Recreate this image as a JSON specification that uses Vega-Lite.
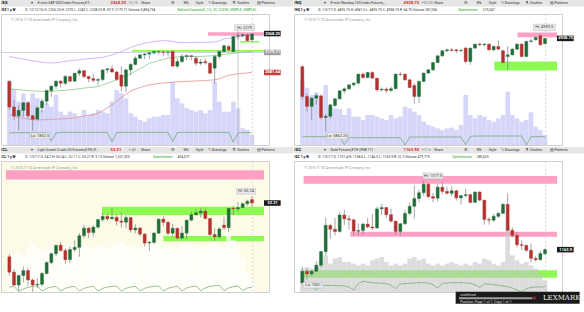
{
"$schema": "https://vega.github.io/schema/vega-lite/v6.json",
"padding": 0,
"background": "#ffffff",
"spacing": 0,
"config": {"view": {"stroke": null}, "font": "Roboto", "concat": {"spacing": 0}},
"datasets": {
"es": [
{"d":"2016-01-04","o":2038,"h":2046,"l":1900,"c":1916,"v":9650,"oi":2992,"ku":2158,"km":2003,"kl":1880},
{"d":"2016-01-11","o":1916,"h":1950,"l":1854,"c":1873,"v":8400,"oi":3014,"ku":2154,"km":2001,"kl":1872},
{"d":"2016-01-18","o":1873,"h":1925,"l":1804,"c":1900,"v":6500,"oi":3014,"ku":2150,"km":1999,"kl":1866},
{"d":"2016-01-25","o":1900,"h":1940,"l":1868,"c":1936,"v":7750,"oi":3014,"ku":2146,"km":1997,"kl":1862},
{"d":"2016-02-01","o":1936,"h":1945,"l":1862,"c":1874,"v":6500,"oi":3014,"ku":2142,"km":1995,"kl":1858},
{"d":"2016-02-08","o":1874,"h":1880,"l":1802.5,"c":1858,"v":7750,"oi":3014,"ku":2138,"km":1993,"kl":1856},
{"d":"2016-02-15","o":1858,"h":1920,"l":1852,"c":1912,"v":7000,"oi":3014,"ku":2134,"km":1992,"kl":1854},
{"d":"2016-02-22","o":1912,"h":1955,"l":1890,"c":1944,"v":5250,"oi":3014,"ku":2131,"km":1991,"kl":1855},
{"d":"2016-02-29","o":1944,"h":2000,"l":1925,"c":1995,"v":6250,"oi":3014,"ku":2128,"km":1990,"kl":1856},
{"d":"2016-03-07","o":1995,"h":2020,"l":1965,"c":2016,"v":5750,"oi":2464,"ku":2127,"km":1991,"kl":1857},
{"d":"2016-03-14","o":2016,"h":2044,"l":2001,"c":2040,"v":7500,"oi":2992,"ku":2128,"km":1993,"kl":1858},
{"d":"2016-03-21","o":2040,"h":2045,"l":2010,"c":2030,"v":5000,"oi":3036,"ku":2131,"km":1995,"kl":1859},
{"d":"2016-03-28","o":2030,"h":2069,"l":2020,"c":2062,"v":4500,"oi":3036,"ku":2135,"km":1996,"kl":1860},
{"d":"2016-04-04","o":2062,"h":2066,"l":2033,"c":2040,"v":5000,"oi":3036,"ku":2138,"km":1998,"kl":1862},
{"d":"2016-04-11","o":2040,"h":2080,"l":2036,"c":2078,"v":4750,"oi":3036,"ku":2140,"km":2001,"kl":1865},
{"d":"2016-04-18","o":2078,"h":2101,"l":2064,"c":2090,"v":4250,"oi":3036,"ku":2143,"km":2004,"kl":1869},
{"d":"2016-04-25","o":2090,"h":2093,"l":2053,"c":2062,"v":5250,"oi":3036,"ku":2146,"km":2007,"kl":1873},
{"d":"2016-05-02","o":2062,"h":2066,"l":2034,"c":2052,"v":4500,"oi":3036,"ku":2148,"km":2009,"kl":1877},
{"d":"2016-05-09","o":2052,"h":2075,"l":2034,"c":2044,"v":4750,"oi":3036,"ku":2150,"km":2011,"kl":1879},
{"d":"2016-05-16","o":2044,"h":2056,"l":2020,"c":2048,"v":5250,"oi":3036,"ku":2152,"km":2014,"kl":1886},
{"d":"2016-05-23","o":2048,"h":2096,"l":2040,"c":2094,"v":5000,"oi":3036,"ku":2154,"km":2022,"kl":1898},
{"d":"2016-05-30","o":2094,"h":2103,"l":2077,"c":2099,"v":4750,"oi":3036,"ku":2160,"km":2030,"kl":1912},
{"d":"2016-06-06","o":2099,"h":2115,"l":2080,"c":2084,"v":6500,"oi":2420,"ku":2166,"km":2038,"kl":1926},
{"d":"2016-06-13","o":2084,"h":2090,"l":2040,"c":2048,"v":8250,"oi":3014,"ku":2174,"km":2048,"kl":1944},
{"d":"2016-06-20","o":2070,"h":2112,"l":1991,"c":2016,"v":7750,"oi":3036,"ku":2182,"km":2058,"kl":1962},
{"d":"2016-06-27","o":2016,"h":2100,"l":1988,"c":2094,"v":7000,"oi":3036,"ku":2192,"km":2066,"kl":1978},
{"d":"2016-07-04","o":2094,"h":2126,"l":2070,"c":2120,"v":4750,"oi":3036,"ku":2202,"km":2074,"kl":1992},
{"d":"2016-07-11","o":2120,"h":2160,"l":2115,"c":2150,"v":4250,"oi":3036,"ku":2210,"km":2088,"kl":2002},
{"d":"2016-07-18","o":2150,"h":2172,"l":2145,"c":2166,"v":3750,"oi":3036,"ku":2216,"km":2100,"kl":2010},
{"d":"2016-07-25","o":2166,"h":2175,"l":2145,"c":2170,"v":3500,"oi":3036,"ku":2222,"km":2112,"kl":2016},
{"d":"2016-08-01","o":2170,"h":2178,"l":2146,"c":2176,"v":4000,"oi":3036,"ku":2226,"km":2126,"kl":2022},
{"d":"2016-08-08","o":2176,"h":2188,"l":2167,"c":2182,"v":4250,"oi":3036,"ku":2230,"km":2132,"kl":2026},
{"d":"2016-08-15","o":2182,"h":2186,"l":2168,"c":2180,"v":4250,"oi":3036,"ku":2232,"km":2138,"kl":2029},
{"d":"2016-08-22","o":2180,"h":2185,"l":2159,"c":2178,"v":4500,"oi":3036,"ku":2234,"km":2144,"kl":2031},
{"d":"2016-08-29","o":2178,"h":2184,"l":2157,"c":2180,"v":4500,"oi":3036,"ku":2234,"km":2150,"kl":2033},
{"d":"2016-09-05","o":2182,"h":2186,"l":2114,"c":2112,"v":9500,"oi":2420,"ku":2230,"km":2153,"kl":2035},
{"d":"2016-09-12","o":2112,"h":2150,"l":2102,"c":2134,"v":7000,"oi":3014,"ku":2226,"km":2156,"kl":2037},
{"d":"2016-09-19","o":2134,"h":2170,"l":2126,"c":2158,"v":6250,"oi":3036,"ku":2225,"km":2160,"kl":2038},
{"d":"2016-09-26","o":2158,"h":2170,"l":2140,"c":2162,"v":5500,"oi":3036,"ku":2225,"km":2160,"kl":2039},
{"d":"2016-10-03","o":2162,"h":2165,"l":2140,"c":2158,"v":5250,"oi":3036,"ku":2225,"km":2159,"kl":2040},
{"d":"2016-10-10","o":2150,"h":2160,"l":2114,"c":2126,"v":5000,"oi":3036,"ku":2226,"km":2158,"kl":2041},
{"d":"2016-10-17","o":2126,"h":2146,"l":2116,"c":2132,"v":5250,"oi":3036,"ku":2226,"km":2158,"kl":2042},
{"d":"2016-10-24","o":2134,"h":2150,"l":2120,"c":2128,"v":4750,"oi":3036,"ku":2227,"km":2160,"kl":2043},
{"d":"2016-10-31","o":2126,"h":2130,"l":2076,"c":2078,"v":5250,"oi":3036,"ku":2227,"km":2161,"kl":2045},
{"d":"2016-11-07","o":2102,"h":2168,"l":2028,"c":2158,"v":9500,"oi":3036,"ku":2228,"km":2163,"kl":2046},
{"d":"2016-11-14","o":2158,"h":2185,"l":2145,"c":2182,"v":6500,"oi":3036,"ku":2233,"km":2166,"kl":2052},
{"d":"2016-11-21","o":2182,"h":2213,"l":2178,"c":2210,"v":5000,"oi":3036,"ku":2243,"km":2168,"kl":2060},
{"d":"2016-11-28","o":2206,"h":2214,"l":2183,"c":2190,"v":5000,"oi":3036,"ku":2246,"km":2171,"kl":2068},
{"d":"2016-12-05","o":2182,"h":2258,"l":2180,"c":2254,"v":6500,"oi":2398,"ku":2249,"km":2174,"kl":2072},
{"d":"2016-12-12","o":2256,"h":2270,"l":2240,"c":2258,"v":5500,"oi":3014,"ku":2252,"km":2176,"kl":2075},
{"d":"2016-12-19","o":2258,"h":2268,"l":2250,"c":2263,"v":2500,"oi":3014,"ku":2256,"km":2178,"kl":2077},
{"d":"2016-12-26","o":2262,"h":2268,"l":2230,"c":2234,"v":2250,"oi":3014,"ku":2261,"km":2180,"kl":2080},
{"d":"2017-01-02","o":2238,"h":2270,"l":2230,"c":2266,"v":1500,"oi":3014,"ku":2266,"km":2182,"kl":2082}
],
"nq": [
{"d":"2016-01-04","o":4610,"h":4630,"l":4230,"c":4265,"v":965,"oi":230},
{"d":"2016-01-11","o":4265,"h":4300,"l":4090,"c":4150,"v":860,"oi":230},
{"d":"2016-01-18","o":4150,"h":4260,"l":3994,"c":4245,"v":750,"oi":230},
{"d":"2016-01-25","o":4245,"h":4300,"l":4170,"c":4275,"v":790,"oi":230},
{"d":"2016-02-01","o":4272,"h":4290,"l":4000,"c":4021,"v":700,"oi":230},
{"d":"2016-02-08","o":4021,"h":4060,"l":3862.25,"c":4035,"v":900,"oi":230},
{"d":"2016-02-15","o":4035,"h":4180,"l":4010,"c":4168,"v":550,"oi":230},
{"d":"2016-02-22","o":4160,"h":4250,"l":4140,"c":4238,"v":550,"oi":230},
{"d":"2016-02-29","o":4238,"h":4340,"l":4230,"c":4330,"v":540,"oi":228},
{"d":"2016-03-07","o":4330,"h":4370,"l":4300,"c":4354,"v":450,"oi":182},
{"d":"2016-03-14","o":4354,"h":4410,"l":4340,"c":4400,"v":550,"oi":224},
{"d":"2016-03-21","o":4400,"h":4430,"l":4380,"c":4420,"v":425,"oi":224},
{"d":"2016-03-28","o":4420,"h":4530,"l":4400,"c":4524,"v":425,"oi":224},
{"d":"2016-04-04","o":4524,"h":4545,"l":4470,"c":4485,"v":375,"oi":224},
{"d":"2016-04-11","o":4485,"h":4550,"l":4475,"c":4543,"v":450,"oi":224},
{"d":"2016-04-18","o":4543,"h":4560,"l":4470,"c":4478,"v":450,"oi":224},
{"d":"2016-04-25","o":4478,"h":4480,"l":4323,"c":4342,"v":425,"oi":224},
{"d":"2016-05-02","o":4342,"h":4370,"l":4320,"c":4350,"v":400,"oi":224},
{"d":"2016-05-09","o":4350,"h":4370,"l":4303,"c":4335,"v":375,"oi":224},
{"d":"2016-05-16","o":4335,"h":4380,"l":4320,"c":4355,"v":450,"oi":224},
{"d":"2016-05-23","o":4355,"h":4530,"l":4350,"c":4524,"v":400,"oi":224},
{"d":"2016-05-30","o":4524,"h":4550,"l":4505,"c":4520,"v":425,"oi":224},
{"d":"2016-06-06","o":4524,"h":4530,"l":4450,"c":4458,"v":575,"oi":180},
{"d":"2016-06-13","o":4458,"h":4470,"l":4360,"c":4369,"v":550,"oi":228},
{"d":"2016-06-20","o":4392,"h":4420,"l":4180,"c":4265,"v":500,"oi":228},
{"d":"2016-06-27","o":4265,"h":4450,"l":4190,"c":4440,"v":450,"oi":228},
{"d":"2016-07-04","o":4440,"h":4545,"l":4430,"c":4536,"v":350,"oi":228},
{"d":"2016-07-11","o":4536,"h":4585,"l":4530,"c":4574,"v":300,"oi":228},
{"d":"2016-07-18","o":4574,"h":4665,"l":4560,"c":4659,"v":275,"oi":228},
{"d":"2016-07-25","o":4659,"h":4745,"l":4650,"c":4737,"v":250,"oi":228},
{"d":"2016-08-01","o":4737,"h":4805,"l":4725,"c":4795,"v":225,"oi":228},
{"d":"2016-08-08","o":4795,"h":4820,"l":4780,"c":4807,"v":250,"oi":228},
{"d":"2016-08-15","o":4807,"h":4825,"l":4785,"c":4800,"v":260,"oi":228},
{"d":"2016-08-22","o":4807,"h":4815,"l":4770,"c":4795,"v":225,"oi":228},
{"d":"2016-08-29","o":4795,"h":4820,"l":4780,"c":4800,"v":300,"oi":228},
{"d":"2016-09-05","o":4826,"h":4840,"l":4650,"c":4671,"v":750,"oi":182},
{"d":"2016-09-12","o":4671,"h":4830,"l":4632,"c":4826,"v":450,"oi":232},
{"d":"2016-09-19","o":4826,"h":4880,"l":4820,"c":4872,"v":400,"oi":234},
{"d":"2016-09-26","o":4872,"h":4890,"l":4850,"c":4865,"v":450,"oi":234},
{"d":"2016-10-03","o":4865,"h":4885,"l":4845,"c":4872,"v":425,"oi":234},
{"d":"2016-10-10","o":4872,"h":4880,"l":4800,"c":4806,"v":375,"oi":234},
{"d":"2016-10-17","o":4806,"h":4860,"l":4790,"c":4845,"v":350,"oi":234},
{"d":"2016-10-24","o":4845,"h":4915,"l":4800,"c":4815,"v":400,"oi":234},
{"d":"2016-10-31","o":4795,"h":4810,"l":4650,"c":4659,"v":450,"oi":234},
{"d":"2016-11-07","o":4729,"h":4850,"l":4574,"c":4748,"v":800,"oi":234},
{"d":"2016-11-14","o":4748,"h":4830,"l":4740,"c":4814,"v":450,"oi":234},
{"d":"2016-11-21","o":4814,"h":4880,"l":4800,"c":4872,"v":400,"oi":234},
{"d":"2016-11-28","o":4872,"h":4880,"l":4720,"c":4729,"v":350,"oi":234},
{"d":"2016-12-05","o":4729,"h":4915,"l":4720,"c":4903,"v":375,"oi":180},
{"d":"2016-12-12","o":4903,"h":4930,"l":4890,"c":4911,"v":490,"oi":230},
{"d":"2016-12-19","o":4923,"h":4960,"l":4915,"c":4950,"v":275,"oi":230},
{"d":"2016-12-26","o":4969,"h":4993.5,"l":4855,"c":4864,"v":225,"oi":230},
{"d":"2017-01-02","o":4876.75,"h":4941.5,"l":4876.75,"c":4938.75,"v":150,"oi":230}
],
"cl": [
{"d":"2016-01-04","o":37.6,"h":38.4,"l":32.1,"c":33.16,"v":600,"oi":422},
{"d":"2016-01-11","o":33.16,"h":34.0,"l":29.13,"c":29.42,"v":660,"oi":431},
{"d":"2016-01-18","o":29.42,"h":32.35,"l":27.6,"c":32.19,"v":720,"oi":386},
{"d":"2016-01-25","o":32.19,"h":34.8,"l":30.2,"c":33.62,"v":660,"oi":407},
{"d":"2016-02-01","o":33.62,"h":34.4,"l":29.25,"c":30.89,"v":780,"oi":422},
{"d":"2016-02-08","o":30.89,"h":31.3,"l":26.05,"c":29.44,"v":870,"oi":431},
{"d":"2016-02-15","o":29.44,"h":31.5,"l":28.5,"c":29.64,"v":780,"oi":434},
{"d":"2016-02-22","o":29.64,"h":33.2,"l":29.0,"c":32.78,"v":750,"oi":389},
{"d":"2016-02-29","o":32.78,"h":36.4,"l":32.5,"c":35.92,"v":780,"oi":413},
{"d":"2016-03-07","o":35.92,"h":38.9,"l":35.4,"c":38.5,"v":810,"oi":425},
{"d":"2016-03-14","o":38.5,"h":41.2,"l":37.8,"c":40.9,"v":840,"oi":431},
{"d":"2016-03-21","o":41.0,"h":41.9,"l":39.0,"c":39.46,"v":780,"oi":389},
{"d":"2016-03-28","o":39.46,"h":40.0,"l":35.6,"c":36.79,"v":810,"oi":413},
{"d":"2016-04-04","o":36.79,"h":40.5,"l":35.8,"c":39.72,"v":840,"oi":425},
{"d":"2016-04-11","o":39.72,"h":42.4,"l":39.0,"c":40.36,"v":810,"oi":431},
{"d":"2016-04-18","o":40.36,"h":44.5,"l":37.6,"c":43.73,"v":780,"oi":389},
{"d":"2016-04-25","o":43.73,"h":46.8,"l":43.0,"c":45.92,"v":870,"oi":413},
{"d":"2016-05-02","o":45.92,"h":46.2,"l":43.0,"c":44.66,"v":810,"oi":425},
{"d":"2016-05-09","o":44.66,"h":46.7,"l":43.5,"c":46.21,"v":780,"oi":431},
{"d":"2016-05-16","o":46.21,"h":48.6,"l":45.8,"c":48.41,"v":840,"oi":389},
{"d":"2016-05-23","o":48.41,"h":50.2,"l":47.8,"c":49.33,"v":810,"oi":413},
{"d":"2016-05-30","o":49.33,"h":50.0,"l":48.0,"c":48.62,"v":780,"oi":425},
{"d":"2016-06-06","o":48.62,"h":51.7,"l":48.5,"c":49.07,"v":840,"oi":431},
{"d":"2016-06-13","o":49.07,"h":50.0,"l":46.7,"c":47.98,"v":870,"oi":434},
{"d":"2016-06-20","o":47.98,"h":50.4,"l":46.0,"c":47.64,"v":900,"oi":389},
{"d":"2016-06-27","o":47.64,"h":49.7,"l":45.8,"c":48.99,"v":810,"oi":413},
{"d":"2016-07-04","o":48.99,"h":49.0,"l":44.7,"c":45.41,"v":840,"oi":425},
{"d":"2016-07-11","o":45.41,"h":47.1,"l":44.4,"c":45.95,"v":780,"oi":431},
{"d":"2016-07-18","o":45.95,"h":46.2,"l":43.6,"c":44.19,"v":810,"oi":389},
{"d":"2016-07-25","o":44.19,"h":44.5,"l":40.6,"c":41.6,"v":840,"oi":413},
{"d":"2016-08-01","o":41.6,"h":42.2,"l":39.19,"c":41.8,"v":870,"oi":425},
{"d":"2016-08-08","o":41.8,"h":44.8,"l":41.4,"c":44.49,"v":840,"oi":431},
{"d":"2016-08-15","o":44.49,"h":48.75,"l":44.2,"c":48.52,"v":870,"oi":434},
{"d":"2016-08-22","o":48.52,"h":49.36,"l":46.5,"c":47.64,"v":810,"oi":389},
{"d":"2016-08-29","o":47.64,"h":47.9,"l":43.8,"c":44.44,"v":780,"oi":413},
{"d":"2016-09-05","o":44.44,"h":47.2,"l":43.5,"c":45.88,"v":810,"oi":425},
{"d":"2016-09-12","o":45.88,"h":46.0,"l":42.8,"c":43.03,"v":780,"oi":431},
{"d":"2016-09-19","o":43.03,"h":46.5,"l":42.6,"c":44.48,"v":840,"oi":389},
{"d":"2016-09-26","o":44.48,"h":48.3,"l":42.7,"c":48.24,"v":900,"oi":416},
{"d":"2016-10-03","o":48.24,"h":50.7,"l":47.9,"c":49.81,"v":840,"oi":428},
{"d":"2016-10-10","o":49.81,"h":51.6,"l":49.5,"c":50.35,"v":810,"oi":434},
{"d":"2016-10-17","o":50.35,"h":51.9,"l":49.0,"c":50.85,"v":780,"oi":392},
{"d":"2016-10-24","o":50.85,"h":51.5,"l":48.5,"c":48.7,"v":810,"oi":416},
{"d":"2016-10-31","o":48.7,"h":48.9,"l":43.6,"c":44.07,"v":870,"oi":431},
{"d":"2016-11-07","o":44.07,"h":45.9,"l":42.2,"c":43.41,"v":900,"oi":437},
{"d":"2016-11-14","o":43.41,"h":46.2,"l":42.9,"c":45.69,"v":840,"oi":440},
{"d":"2016-11-21","o":46.8,"h":49.2,"l":45.4,"c":46.06,"v":810,"oi":392},
{"d":"2016-11-28","o":46.06,"h":51.8,"l":44.8,"c":51.68,"v":1110,"oi":416},
{"d":"2016-12-05","o":51.68,"h":52.4,"l":49.6,"c":51.5,"v":930,"oi":428},
{"d":"2016-12-12","o":51.5,"h":53.5,"l":50.7,"c":51.9,"v":780,"oi":434},
{"d":"2016-12-19","o":51.9,"h":53.3,"l":51.6,"c":53.02,"v":600,"oi":392},
{"d":"2016-12-26","o":53.02,"h":54.2,"l":52.4,"c":53.72,"v":360,"oi":416},
{"d":"2017-01-02","o":54.2,"h":55.24,"l":52.11,"c":53.21,"v":240,"oi":422}
],
"gc": [
{"d":"2016-01-04","o":1061,"h":1112,"l":1061,"c":1097,"v":140,"oi":290},
{"d":"2016-01-11","o":1097,"h":1104,"l":1071,"c":1089,"v":150,"oi":288},
{"d":"2016-01-18","o":1089,"h":1102,"l":1081,"c":1097,"v":140,"oi":280},
{"d":"2016-01-25","o":1097,"h":1128,"l":1096,"c":1116,"v":150,"oi":262},
{"d":"2016-02-01","o":1116,"h":1160,"l":1110,"c":1158,"v":190,"oi":286},
{"d":"2016-02-08","o":1158,"h":1263,"l":1147,"c":1239,"v":220,"oi":290},
{"d":"2016-02-15","o":1239,"h":1244,"l":1197,"c":1227,"v":170,"oi":290},
{"d":"2016-02-22","o":1227,"h":1262,"l":1208,"c":1220,"v":200,"oi":288},
{"d":"2016-02-29","o":1220,"h":1281,"l":1216,"c":1271,"v":210,"oi":288},
{"d":"2016-03-07","o":1271,"h":1287,"l":1240,"c":1259,"v":180,"oi":286},
{"d":"2016-03-14","o":1259,"h":1270,"l":1226,"c":1256,"v":180,"oi":280},
{"d":"2016-03-21","o":1256,"h":1260,"l":1209,"c":1221,"v":170,"oi":262},
{"d":"2016-03-28","o":1221,"h":1245,"l":1208,"c":1223,"v":160,"oi":300},
{"d":"2016-04-04","o":1223,"h":1247,"l":1210,"c":1243,"v":170,"oi":314},
{"d":"2016-04-11","o":1243,"h":1262,"l":1230,"c":1234,"v":160,"oi":310},
{"d":"2016-04-18","o":1234,"h":1274,"l":1224,"c":1231,"v":190,"oi":306},
{"d":"2016-04-25","o":1231,"h":1297,"l":1227,"c":1290,"v":200,"oi":304},
{"d":"2016-05-02","o":1290,"h":1306,"l":1270,"c":1294,"v":210,"oi":302},
{"d":"2016-05-09","o":1294,"h":1296,"l":1262,"c":1272,"v":180,"oi":300},
{"d":"2016-05-16","o":1272,"h":1291,"l":1248,"c":1252,"v":160,"oi":290},
{"d":"2016-05-23","o":1252,"h":1254,"l":1209,"c":1220,"v":170,"oi":270},
{"d":"2016-05-30","o":1220,"h":1246,"l":1207,"c":1244,"v":160,"oi":298},
{"d":"2016-06-06","o":1244,"h":1287,"l":1240,"c":1276,"v":170,"oi":300},
{"d":"2016-06-13","o":1276,"h":1310,"l":1270,"c":1298,"v":200,"oi":302},
{"d":"2016-06-20","o":1298,"h":1362,"l":1260,"c":1322,"v":210,"oi":304},
{"d":"2016-06-27","o":1322,"h":1350,"l":1310,"c":1340,"v":190,"oi":306},
{"d":"2016-07-04","o":1340,"h":1377.5,"l":1330,"c":1366,"v":200,"oi":306},
{"d":"2016-07-11","o":1366,"h":1370,"l":1322,"c":1328,"v":170,"oi":304},
{"d":"2016-07-18","o":1328,"h":1339,"l":1310,"c":1323,"v":160,"oi":294},
{"d":"2016-07-25","o":1323,"h":1368,"l":1312,"c":1357,"v":170,"oi":274},
{"d":"2016-08-01","o":1357,"h":1373,"l":1335,"c":1344,"v":160,"oi":302},
{"d":"2016-08-08","o":1344,"h":1358,"l":1334,"c":1338,"v":170,"oi":304},
{"d":"2016-08-15","o":1338,"h":1359,"l":1330,"c":1346,"v":180,"oi":306},
{"d":"2016-08-22","o":1346,"h":1350,"l":1316,"c":1324,"v":170,"oi":306},
{"d":"2016-08-29","o":1324,"h":1332,"l":1303,"c":1331,"v":160,"oi":306},
{"d":"2016-09-05","o":1331,"h":1352,"l":1326,"c":1334,"v":170,"oi":304},
{"d":"2016-09-12","o":1334,"h":1337,"l":1307,"c":1310,"v":160,"oi":302},
{"d":"2016-09-19","o":1310,"h":1344,"l":1309,"c":1342,"v":180,"oi":294},
{"d":"2016-09-26","o":1342,"h":1345,"l":1313,"c":1317,"v":170,"oi":278},
{"d":"2016-10-03","o":1317,"h":1318,"l":1241,"c":1257,"v":200,"oi":298},
{"d":"2016-10-10","o":1257,"h":1265,"l":1241,"c":1255,"v":190,"oi":298},
{"d":"2016-10-17","o":1255,"h":1275,"l":1250,"c":1267,"v":170,"oi":294},
{"d":"2016-10-24","o":1267,"h":1280,"l":1262,"c":1276,"v":160,"oi":290},
{"d":"2016-10-31","o":1276,"h":1308,"l":1275,"c":1304,"v":180,"oi":286},
{"d":"2016-11-07","o":1304,"h":1338,"l":1220,"c":1224,"v":380,"oi":282},
{"d":"2016-11-14","o":1224,"h":1232,"l":1201,"c":1208,"v":220,"oi":274},
{"d":"2016-11-21","o":1208,"h":1218,"l":1171,"c":1179,"v":190,"oi":262},
{"d":"2016-11-28","o":1179,"h":1194,"l":1162,"c":1177,"v":170,"oi":250},
{"d":"2016-12-05","o":1177,"h":1180,"l":1156,"c":1162,"v":180,"oi":270},
{"d":"2016-12-12","o":1162,"h":1183,"l":1124,"c":1137,"v":160,"oi":278},
{"d":"2016-12-19","o":1137,"h":1144,"l":1126,"c":1133,"v":140,"oi":280},
{"d":"2016-12-26","o":1133,"h":1160,"l":1131,"c":1152,"v":110,"oi":280},
{"d":"2017-01-02","o":1151.4,"h":1168.6,"l":1146.3,"c":1163.9,"v":70,"oi":282}
],
"bands": [
{"p":"ES","s":"2016-10-28","e":"2017-01-20","top":2275,"bot":2258,"k":"pink"},
{"p":"ES","s":"2016-07-06","e":"2017-01-20","top":2190,"bot":2181,"k":"green"},
{"p":"ES","s":"2016-12-15","e":"2017-01-13","top":2232,"bot":2225,"k":"green"},
{"p":"NQ","s":"2016-11-22","e":"2017-01-20","top":5008,"bot":4952,"k":"pink"},
{"p":"NQ","s":"2016-10-18","e":"2017-01-20","top":4671,"bot":4567,"k":"green"},
{"p":"CL","s":"2015-12-30","e":"2017-01-20","top":62.7,"bot":60.0,"k":"pink"},
{"p":"CL","s":"2016-05-22","e":"2017-01-20","top":52.1,"bot":49.7,"k":"green"},
{"p":"CL","s":"2016-08-22","e":"2017-01-20","top":43.66,"bot":42.1,"k":"green"},
{"p":"GC","s":"2016-01-06","e":"2017-01-20","top":1392,"bot":1368,"k":"pink"},
{"p":"GC","s":"2016-03-16","e":"2017-01-20","top":1219,"bot":1203.5,"k":"pink"},
{"p":"GC","s":"2016-01-06","e":"2017-01-20","top":1100.6,"bot":1077,"k":"green"}
],
"notes": [
{"p":"ES","d":"2016-12-22","y":2297,"t":"Hi: 2270","k":"hl"},
{"p":"ES","d":"2016-02-19","y":1778,"t":"Lo: 1802.5","k":"hl"},
{"p":"ES","d":"2016-01-07","y":2334,"t":"© 2016 © TD Ameritrade IP Company, Inc.","k":"copy"},
{"p":"NQ","d":"2017-01-01","y":5066,"t":"Hi: 4993.5","k":"hl"},
{"p":"NQ","d":"2016-02-25","y":3808,"t":"Lo: 3862.25","k":"hl"},
{"p":"NQ","d":"2016-01-07","y":5155,"t":"© 2016 © TD Ameritrade IP Company, Inc.","k":"copy"},
{"p":"CL","d":"2016-12-24","y":56.6,"t":"Hi: 55.24","k":"hl"},
{"p":"CL","d":"2016-01-07","y":63.4,"t":"© 2016 © TD Ameritrade IP Company, Inc.","k":"copy"},
{"p":"GC","d":"2016-07-18","y":1392,"t":"Hi: 1377.5","k":"hl"},
{"p":"GC","d":"2016-01-20","y":1054,"t":"Lo: 1061","k":"hl"},
{"p":"GC","d":"2016-01-07","y":1417,"t":"© 2016 © TD Ameritrade IP Company, Inc.","k":"copy"}
],
"tags": [
{"p":"ES","y":2268.25,"t":"2268.25","k":"last"},
{"p":"ES","y":2177.6,"t":"2179.71","k":"mid"},
{"p":"ES","y":2081.6,"t":"2081.64","k":"low"},
{"p":"NQ","y":4938.75,"t":"4938.75","k":"last"},
{"p":"CL","y":53.21,"t":"53.21","k":"last"},
{"p":"GC","y":1163.9,"t":"1163.9","k":"last"}
],
"ovl": [
{"k":"box","s":"2016-08-21","e":"2017-02-23","top":1033.4,"bot":996.3},
{"k":"bar","s":"2016-08-26","e":"2016-12-14","top":1016.4,"bot":1010.2}
],
"ovltext": [
{"k":"small","d":"2016-08-28","y":1023.2,"t":"undefined"},
{"k":"small","d":"2016-08-28","y":1001,"t":"Position: Page 1 of 1, Copy 1 of 1"},
{"k":"x","d":"2016-12-17","y":1013.3,"t":"✕"},
{"k":"logo","d":"2017-01-27","y":1013.3,"t":"LEXMARK"}
],
"hdr": [
{"p":"ES","row":"tb","item":"a0","t":" /ES","k":"bold"},
{"p":"ES","row":"tb","item":"a5","t":"▾","k":"dark"},
{"p":"ES","row":"tb","item":"a6","t":"E-mini S&P 500 Index Futures,ET...","k":"dark"},
{"p":"ES","row":"tb","item":"a18","t":"2268.25","k":"red"},
{"p":"ES","row":"tb","item":"a21","t":"+2.75","k":"gray"},
{"p":"ES","row":"tb","item":"a23","t":"Share","k":"dark"},
{"p":"ES","row":"tb","item":"a28","t":"⚙","k":"dark"},
{"p":"ES","row":"tb","item":"a30","t":"Wk","k":"dark"},
{"p":"ES","row":"tb","item":"a32","t":"Style","k":"dark"},
{"p":"ES","row":"tb","item":"a34","t":"✎ Drawings","k":"dark"},
{"p":"ES","row":"tb","item":"a38","t":"⚗ Studies","k":"dark"},
{"p":"ES","row":"tb","item":"a42","t":"▤ Patterns","k":"dark"},
{"p":"ES","row":"info","item":"a0","t":" /ES 1 y W","k":"bold"},
{"p":"ES","row":"info","item":"a4","t":"D: 12/12/16 O: 2256.25 H: 2270 L: 2240 C: 2258.25 R: 30 Y: 2179.71 Volume 5,894,734","k":"dark"},
{"p":"ES","row":"info","item":"a29","t":"KeltnerChannels(0, 2.5, 20, CLOSE, SIMPLE, SIMPLE)","k":"green"},
{"p":"NQ","row":"tb","item":"a0","t":" /NQ","k":"bold"},
{"p":"NQ","row":"tb","item":"a5","t":"▾","k":"dark"},
{"p":"NQ","row":"tb","item":"a6","t":"E-mini Nasdaq 100 Index Futures,...","k":"dark"},
{"p":"NQ","row":"tb","item":"a18","t":"4938.75","k":"red"},
{"p":"NQ","row":"tb","item":"a21","t":"+52.00","k":"gray"},
{"p":"NQ","row":"tb","item":"a23","t":"Share","k":"dark"},
{"p":"NQ","row":"tb","item":"a28","t":"⚙","k":"dark"},
{"p":"NQ","row":"tb","item":"a30","t":"Wk","k":"dark"},
{"p":"NQ","row":"tb","item":"a32","t":"Style","k":"dark"},
{"p":"NQ","row":"tb","item":"a34","t":"✎ Drawings","k":"dark"},
{"p":"NQ","row":"tb","item":"a38","t":"⚗ Studies","k":"dark"},
{"p":"NQ","row":"tb","item":"a42","t":"▤ Patterns","k":"dark"},
{"p":"NQ","row":"info","item":"a0","t":" /NQ 1 y W","k":"bold"},
{"p":"NQ","row":"info","item":"a4","t":"D: 1/3/17 O: 4876.75 H: 4941.5 L: 4876.75 C: 4938.75 R: 64.75 Volume 281,066","k":"dark"},
{"p":"NQ","row":"info","item":"a27","t":"OpenInterest","k":"green"},
{"p":"NQ","row":"info","item":"a31","t":"229,247","k":"dark"},
{"p":"CL","row":"tb","item":"a0","t":" /CL","k":"bold"},
{"p":"CL","row":"tb","item":"a5","t":"▾","k":"dark"},
{"p":"CL","row":"tb","item":"a6","t":"Light Sweet Crude Oil Futures,ETH (F...","k":"dark"},
{"p":"CL","row":"tb","item":"a18","t":"53.21","k":"red"},
{"p":"CL","row":"tb","item":"a21","t":"+.49","k":"gray"},
{"p":"CL","row":"tb","item":"a23","t":"Share","k":"dark"},
{"p":"CL","row":"tb","item":"a28","t":"⚙","k":"dark"},
{"p":"CL","row":"tb","item":"a30","t":"Wk","k":"dark"},
{"p":"CL","row":"tb","item":"a32","t":"Style","k":"dark"},
{"p":"CL","row":"tb","item":"a34","t":"✎ Drawings","k":"dark"},
{"p":"CL","row":"tb","item":"a38","t":"⚗ Studies","k":"dark"},
{"p":"CL","row":"tb","item":"a42","t":"▤ Patterns","k":"dark"},
{"p":"CL","row":"info","item":"a0","t":" /CL 1 y W","k":"bold"},
{"p":"CL","row":"info","item":"a4","t":"D: 1/3/17 O: 54.2 H: 55.24 L: 52.11 C: 53.21 R: 3.13 Volume 1,201,320","k":"dark"},
{"p":"CL","row":"info","item":"a25","t":"OpenInterest","k":"green"},
{"p":"CL","row":"info","item":"a29","t":"404,377","k":"dark"},
{"p":"GC","row":"tb","item":"a0","t":" /GC","k":"bold"},
{"p":"GC","row":"tb","item":"a5","t":"▾","k":"dark"},
{"p":"GC","row":"tb","item":"a6","t":"Gold Futures,ETH (FEB 17)","k":"dark"},
{"p":"GC","row":"tb","item":"a18","t":"1163.90","k":"red"},
{"p":"GC","row":"tb","item":"a21","t":"+11.6","k":"gray"},
{"p":"GC","row":"tb","item":"a23","t":"Share","k":"dark"},
{"p":"GC","row":"tb","item":"a28","t":"⚙","k":"dark"},
{"p":"GC","row":"tb","item":"a30","t":"Wk","k":"dark"},
{"p":"GC","row":"tb","item":"a32","t":"Style","k":"dark"},
{"p":"GC","row":"tb","item":"a34","t":"✎ Drawings","k":"dark"},
{"p":"GC","row":"tb","item":"a38","t":"⚗ Studies","k":"dark"},
{"p":"GC","row":"tb","item":"a42","t":"▤ Patterns","k":"dark"},
{"p":"GC","row":"info","item":"a0","t":" /GC 1 y W","k":"bold"},
{"p":"GC","row":"info","item":"a4","t":"D: 1/3/17 O: 1151.4 H: 1168.6 L: 1146.3 C: 1163.9 R: 22.3 Volume 419,719","k":"dark"},
{"p":"GC","row":"info","item":"a26","t":"OpenInterest","k":"green"},
{"p":"GC","row":"info","item":"a30","t":"280,620","k":"dark"}
]
},
"vconcat": [
{"spacing": 0, "hconcat": [
 {"spacing": 0, "vconcat": [
  {"width": 292, "height": 13, "view": {"stroke": null, "fill": "#ffffff"},
   "resolve": {"scale": {"size": "independent"}},
   "layer": [
    {"data": {"values": [{"row": "tb"}]}, "mark": {"type": "rect", "color": "#e6e6e6"},
     "encoding": {"y": {"field": "row", "type": "nominal", "scale": {"type": "band", "domain": ["tb","info"], "paddingInner": 0, "paddingOuter": 0}, "axis": null}}},
    {"data": {"name": "hdr"}, "transform": [{"filter": "datum.p=='ES' && (datum.k=='dark' || datum.k=='gray' || datum.k=='green')"}],
     "mark": {"type": "text", "align": "left", "baseline": "middle", "font": "Roboto"},
     "encoding": {
      "x": {"field": "item", "type": "nominal", "bandPosition": 0, "scale": {"type": "band", "domain": ["a0","a1","a2","a3","a4","a5","a6","a7","a8","a9","a10","a11","a12","a13","a14","a15","a16","a17","a18","a19","a20","a21","a22","a23","a24","a25","a26","a27","a28","a29","a30","a31","a32","a33","a34","a35","a36","a37","a38","a39","a40","a41","a42","a43","a44","a45","a46","a47"], "paddingInner": 0, "paddingOuter": 0}, "axis": null},
      "y": {"field": "row", "type": "nominal", "scale": {"type": "band", "domain": ["tb","info"], "paddingInner": 0, "paddingOuter": 0}, "axis": null},
      "text": {"field": "t"},
      "size": {"field": "row", "type": "ordinal", "scale": {"domain": ["tb","info"], "range": [3.6, 3.4]}, "legend": null},
      "color": {"field": "k", "type": "nominal", "scale": {"domain": ["dark","gray","green","red","bold"], "range": ["#333333","#777777","#1e9e1e","#d42a2a","#111111"]}, "legend": null}
     }},
    {"data": {"name": "hdr"}, "transform": [{"filter": "datum.p=='ES' && (datum.k=='red' || datum.k=='bold')"}],
     "mark": {"type": "text", "align": "left", "baseline": "middle", "font": "Roboto", "fontWeight": "bold"},
     "encoding": {
      "x": {"field": "item", "type": "nominal", "bandPosition": 0, "scale": {"type": "band", "domain": ["a0","a1","a2","a3","a4","a5","a6","a7","a8","a9","a10","a11","a12","a13","a14","a15","a16","a17","a18","a19","a20","a21","a22","a23","a24","a25","a26","a27","a28","a29","a30","a31","a32","a33","a34","a35","a36","a37","a38","a39","a40","a41","a42","a43","a44","a45","a46","a47"], "paddingInner": 0, "paddingOuter": 0}, "axis": null},
      "y": {"field": "row", "type": "nominal", "scale": {"type": "band", "domain": ["tb","info"], "paddingInner": 0, "paddingOuter": 0}, "axis": null},
      "text": {"field": "t"},
      "size": {"field": "row", "type": "ordinal", "scale": {"domain": ["tb","info"], "range": [4.2, 3.4]}, "legend": null},
      "color": {"field": "k", "type": "nominal", "scale": {"domain": ["dark","gray","green","red","bold"], "range": ["#333333","#777777","#1e9e1e","#d42a2a","#111111"]}, "legend": null}
     }}
   ]},
  {"width": 268, "height": 131, "view": {"stroke": "#cfcfcf", "fill": "#ffffff"},
   "resolve": {"scale": {"y": "independent", "color": "independent"}},
   "layer": [
    {"data": {"name": "bands"}, "transform": [{"filter": "datum.p=='ES'"}],
     "mark": {"type": "rect", "opacity": 0.9},
     "encoding": {
      "x": {"field": "s", "type": "temporal", "scale": {"domain": [{"year":2015,"month":12,"date":30},{"year":2017,"month":1,"date":20}], "nice": false}, "axis": null},
      "x2": {"field": "e"},
      "y": {"field": "top", "type": "quantitative", "scale": {"domain": [1734, 2362], "nice": false, "zero": false}, "axis": null},
      "y2": {"field": "bot"},
      "color": {"field": "k", "type": "nominal", "scale": {"domain": ["pink","green"], "range": ["#ff96be","#7ff93e"]}, "legend": null}
     }},
    {"data": {"name": "es"}, "mark": {"type": "bar", "width": 4.6, "color": "#d6d6fa"},
     "encoding": {
      "x": {"field": "d", "type": "temporal", "scale": {"domain": [{"year":2015,"month":12,"date":30},{"year":2017,"month":1,"date":20}], "nice": false}, "axis": null},
      "y": {"field": "v", "type": "quantitative", "scale": {"domain": [0, 19650], "nice": false}, "axis": null}
     }},
    {"data": {"name": "es"}, "mark": {"type": "line", "color": "#5da85d", "strokeWidth": 0.7},
     "encoding": {
      "x": {"field": "d", "type": "temporal", "scale": {"domain": [{"year":2015,"month":12,"date":30},{"year":2017,"month":1,"date":20}], "nice": false}, "axis": null},
      "y": {"field": "oi", "type": "quantitative", "scale": {"domain": [2200, 10846], "nice": false, "zero": false}, "axis": null}
     }},
    {"layer": [
     {"data": {"values": [{}]}, "mark": {"type": "rule", "color": "#c4c4c4", "strokeDash": [2,2], "strokeWidth": 0.6},
      "encoding": {"x": {"datum": {"year":2017,"month":1,"date":3}, "type": "temporal", "scale": {"domain": [{"year":2015,"month":12,"date":30},{"year":2017,"month":1,"date":20}], "nice": false}}}},
     {"data": {"values": [{}]}, "mark": {"type": "rule", "color": "#b4b4b4", "strokeWidth": 0.6},
      "encoding": {"y": {"datum": 2177.6, "type": "quantitative", "scale": {"domain": [1734, 2362], "nice": false, "zero": false}}}},
     {"data": {"values": [{}]}, "mark": {"type": "rule", "color": "#a8a8a8", "strokeWidth": 0.6},
      "encoding": {
       "x": {"datum": {"year":2016,"month":12,"date":12}, "type": "temporal", "scale": {"domain": [{"year":2015,"month":12,"date":30},{"year":2017,"month":1,"date":20}], "nice": false}},
       "y": {"datum": 2294, "type": "quantitative", "scale": {"domain": [1734, 2362], "nice": false, "zero": false}},
       "y2": {"datum": 1734}}},
     {"data": {"name": "es"}, "mark": {"type": "line", "color": "#c7a3f2", "strokeWidth": 0.8},
      "encoding": {
       "x": {"field": "d", "type": "temporal", "scale": {"domain": [{"year":2015,"month":12,"date":30},{"year":2017,"month":1,"date":20}], "nice": false}},
       "y": {"field": "ku", "type": "quantitative", "scale": {"domain": [1734, 2362], "nice": false, "zero": false}}}},
     {"data": {"name": "es"}, "mark": {"type": "line", "color": "#8cc78c", "strokeWidth": 0.8},
      "encoding": {
       "x": {"field": "d", "type": "temporal", "scale": {"domain": [{"year":2015,"month":12,"date":30},{"year":2017,"month":1,"date":20}], "nice": false}},
       "y": {"field": "km", "type": "quantitative", "scale": {"domain": [1734, 2362], "nice": false, "zero": false}}}},
     {"data": {"name": "es"}, "mark": {"type": "line", "color": "#dc9494", "strokeWidth": 0.8},
      "encoding": {
       "x": {"field": "d", "type": "temporal", "scale": {"domain": [{"year":2015,"month":12,"date":30},{"year":2017,"month":1,"date":20}], "nice": false}},
       "y": {"field": "kl", "type": "quantitative", "scale": {"domain": [1734, 2362], "nice": false, "zero": false}}}},
     {"data": {"name": "es"}, "mark": {"type": "rule", "color": "#7f7f7f", "strokeWidth": 0.7, "clip": true},
      "encoding": {
       "x": {"field": "d", "type": "temporal", "scale": {"domain": [{"year":2015,"month":12,"date":30},{"year":2017,"month":1,"date":20}], "nice": false},
             "axis": {"values": [{"year":2016,"month":2,"date":1},{"year":2016,"month":3,"date":1},{"year":2016,"month":4,"date":1},{"year":2016,"month":5,"date":1},{"year":2016,"month":6,"date":1},{"year":2016,"month":7,"date":1},{"year":2016,"month":8,"date":1},{"year":2016,"month":9,"date":1},{"year":2016,"month":10,"date":1},{"year":2016,"month":11,"date":1},{"year":2016,"month":12,"date":1},{"year":2017,"month":1,"date":1}],
                      "labelExpr": "month(datum.value)==0 ? '17' : timeFormat(datum.value, '%b')", "title": null, "ticks": false, "tickSize": 0, "domain": false, "grid": false,
                      "labelFontSize": 4.5, "labelColor": "#555555", "labelFont": "Roboto", "labelPadding": 2.5, "minExtent": 12, "maxExtent": 12, "labelOverlap": false, "labelFlush": false}},
       "y": {"field": "l", "type": "quantitative", "scale": {"domain": [1734, 2362], "nice": false, "zero": false},
             "axis": {"orient": "right", "values": [1760,1792,1824,1856,1888,1920,1952,1984,2016,2048,2080,2112,2144,2176,2208,2240,2272,2304,2336], "title": null, "ticks": false, "tickSize": 0, "domain": false, "grid": false,
                      "labelFontSize": 4.5, "labelColor": "#555555", "labelFont": "Roboto", "labelPadding": 15, "labelAlign": "right", "minExtent": 24, "maxExtent": 24, "labelOverlap": false, "labelFlush": false}},
       "y2": {"field": "h"}}},
     {"data": {"name": "es"}, "mark": {"type": "bar", "width": 3, "strokeWidth": 0.4, "clip": true},
      "encoding": {
       "x": {"field": "d", "type": "temporal", "scale": {"domain": [{"year":2015,"month":12,"date":30},{"year":2017,"month":1,"date":20}], "nice": false}, "axis": null},
       "y": {"field": "o", "type": "quantitative", "scale": {"domain": [1734, 2362], "nice": false, "zero": false}, "axis": null},
       "y2": {"field": "c"},
       "color": {"condition": {"test": "datum.c >= datum.o", "value": "#1f6e3a"}, "value": "#b3322f"},
       "stroke": {"condition": {"test": "datum.c >= datum.o", "value": "#1f6e3a"}, "value": "#b3322f"}}},
     {"data": {"name": "notes"}, "transform": [{"filter": "datum.p=='ES' && datum.k=='hl'"}],
      "mark": {"type": "point", "shape": "M-1,-0.3L1,-0.3L1,0.3L-1,0.3Z", "size": 400, "filled": true, "fill": "#e9e9e9", "stroke": "#b0b0b0", "strokeWidth": 0.4, "opacity": 1},
      "encoding": {
       "x": {"field": "d", "type": "temporal", "scale": {"domain": [{"year":2015,"month":12,"date":30},{"year":2017,"month":1,"date":20}], "nice": false}},
       "y": {"field": "y", "type": "quantitative", "scale": {"domain": [1734, 2362], "nice": false, "zero": false}}}},
     {"data": {"name": "notes"}, "transform": [{"filter": "datum.p=='ES' && datum.k=='hl'"}],
      "mark": {"type": "text", "fontSize": 4, "color": "#444444", "align": "center", "baseline": "middle"},
      "encoding": {
       "x": {"field": "d", "type": "temporal", "scale": {"domain": [{"year":2015,"month":12,"date":30},{"year":2017,"month":1,"date":20}], "nice": false}},
       "y": {"field": "y", "type": "quantitative", "scale": {"domain": [1734, 2362], "nice": false, "zero": false}},
       "text": {"field": "t"}}},
     {"data": {"name": "notes"}, "transform": [{"filter": "datum.p=='ES' && datum.k=='copy'"}],
      "mark": {"type": "text", "fontSize": 3.6, "color": "#9a9a9a", "align": "left", "baseline": "middle"},
      "encoding": {
       "x": {"field": "d", "type": "temporal", "scale": {"domain": [{"year":2015,"month":12,"date":30},{"year":2017,"month":1,"date":20}], "nice": false}},
       "y": {"field": "y", "type": "quantitative", "scale": {"domain": [1734, 2362], "nice": false, "zero": false}},
       "text": {"field": "t"}}},
     {"data": {"name": "tags"}, "transform": [{"filter": "datum.p=='ES'"}],
      "mark": {"type": "rect", "height": 5.5},
      "encoding": {
       "x": {"datum": {"year":2017,"month":1,"date":20}, "type": "temporal", "scale": {"domain": [{"year":2015,"month":12,"date":30},{"year":2017,"month":1,"date":20}], "nice": false}},
       "x2": {"datum": {"year":2017,"month":2,"date":14}},
       "y": {"field": "y", "type": "quantitative", "scale": {"domain": [1734, 2362], "nice": false, "zero": false}},
       "color": {"field": "k", "type": "nominal", "scale": {"domain": ["last","mid","low"], "range": ["#1a1a1a","#a0a0a0","#c83c3c"]}, "legend": null}}},
     {"data": {"name": "tags"}, "transform": [{"filter": "datum.p=='ES'"}],
      "mark": {"type": "text", "fontSize": 4, "fontWeight": "bold", "color": "#ffffff", "align": "center", "baseline": "middle"},
      "encoding": {
       "x": {"datum": {"year":2017,"month":2,"date":2}, "type": "temporal", "scale": {"domain": [{"year":2015,"month":12,"date":30},{"year":2017,"month":1,"date":20}], "nice": false}},
       "y": {"field": "y", "type": "quantitative", "scale": {"domain": [1734, 2362], "nice": false, "zero": false}},
       "text": {"field": "t"}}}
    ]}
   ]}
 ]},
 {"spacing": 0, "vconcat": [
  {"width": 292, "height": 13, "view": {"stroke": null, "fill": "#ffffff"},
   "resolve": {"scale": {"size": "independent"}},
   "layer": [
    {"data": {"values": [{"row": "tb"}]}, "mark": {"type": "rect", "color": "#e6e6e6"},
     "encoding": {"y": {"field": "row", "type": "nominal", "scale": {"type": "band", "domain": ["tb","info"], "paddingInner": 0, "paddingOuter": 0}, "axis": null}}},
    {"data": {"name": "hdr"}, "transform": [{"filter": "datum.p=='NQ' && (datum.k=='dark' || datum.k=='gray' || datum.k=='green')"}],
     "mark": {"type": "text", "align": "left", "baseline": "middle", "font": "Roboto"},
     "encoding": {
      "x": {"field": "item", "type": "nominal", "bandPosition": 0, "scale": {"type": "band", "domain": ["a0","a1","a2","a3","a4","a5","a6","a7","a8","a9","a10","a11","a12","a13","a14","a15","a16","a17","a18","a19","a20","a21","a22","a23","a24","a25","a26","a27","a28","a29","a30","a31","a32","a33","a34","a35","a36","a37","a38","a39","a40","a41","a42","a43","a44","a45","a46","a47"], "paddingInner": 0, "paddingOuter": 0}, "axis": null},
      "y": {"field": "row", "type": "nominal", "scale": {"type": "band", "domain": ["tb","info"], "paddingInner": 0, "paddingOuter": 0}, "axis": null},
      "text": {"field": "t"},
      "size": {"field": "row", "type": "ordinal", "scale": {"domain": ["tb","info"], "range": [3.6, 3.4]}, "legend": null},
      "color": {"field": "k", "type": "nominal", "scale": {"domain": ["dark","gray","green","red","bold"], "range": ["#333333","#777777","#1e9e1e","#d42a2a","#111111"]}, "legend": null}
     }},
    {"data": {"name": "hdr"}, "transform": [{"filter": "datum.p=='NQ' && (datum.k=='red' || datum.k=='bold')"}],
     "mark": {"type": "text", "align": "left", "baseline": "middle", "font": "Roboto", "fontWeight": "bold"},
     "encoding": {
      "x": {"field": "item", "type": "nominal", "bandPosition": 0, "scale": {"type": "band", "domain": ["a0","a1","a2","a3","a4","a5","a6","a7","a8","a9","a10","a11","a12","a13","a14","a15","a16","a17","a18","a19","a20","a21","a22","a23","a24","a25","a26","a27","a28","a29","a30","a31","a32","a33","a34","a35","a36","a37","a38","a39","a40","a41","a42","a43","a44","a45","a46","a47"], "paddingInner": 0, "paddingOuter": 0}, "axis": null},
      "y": {"field": "row", "type": "nominal", "scale": {"type": "band", "domain": ["tb","info"], "paddingInner": 0, "paddingOuter": 0}, "axis": null},
      "text": {"field": "t"},
      "size": {"field": "row", "type": "ordinal", "scale": {"domain": ["tb","info"], "range": [4.2, 3.4]}, "legend": null},
      "color": {"field": "k", "type": "nominal", "scale": {"domain": ["dark","gray","green","red","bold"], "range": ["#333333","#777777","#1e9e1e","#d42a2a","#111111"]}, "legend": null}
     }}
   ]},
  {"width": 268, "height": 131, "view": {"stroke": "#cfcfcf", "fill": "#ffffff"},
   "resolve": {"scale": {"y": "independent", "color": "independent"}},
   "layer": [
    {"data": {"name": "bands"}, "transform": [{"filter": "datum.p=='NQ'"}],
     "mark": {"type": "rect", "opacity": 0.9},
     "encoding": {
      "x": {"field": "s", "type": "temporal", "scale": {"domain": [{"year":2015,"month":12,"date":30},{"year":2017,"month":1,"date":20}], "nice": false}, "axis": null},
      "x2": {"field": "e"},
      "y": {"field": "top", "type": "quantitative", "scale": {"domain": [3702, 5222], "nice": false, "zero": false}, "axis": null},
      "y2": {"field": "bot"},
      "color": {"field": "k", "type": "nominal", "scale": {"domain": ["pink","green"], "range": ["#ff96be","#7ff93e"]}, "legend": null}
     }},
    {"data": {"name": "nq"}, "mark": {"type": "bar", "width": 4.6, "color": "#d6d6fa"},
     "encoding": {
      "x": {"field": "d", "type": "temporal", "scale": {"domain": [{"year":2015,"month":12,"date":30},{"year":2017,"month":1,"date":20}], "nice": false}, "axis": null},
      "y": {"field": "v", "type": "quantitative", "scale": {"domain": [0, 1965], "nice": false}, "axis": null}
     }},
    {"data": {"name": "nq"}, "mark": {"type": "line", "color": "#6aa86a", "strokeWidth": 0.7},
     "encoding": {
      "x": {"field": "d", "type": "temporal", "scale": {"domain": [{"year":2015,"month":12,"date":30},{"year":2017,"month":1,"date":20}], "nice": false}, "axis": null},
      "y": {"field": "oi", "type": "quantitative", "scale": {"domain": [180, 966], "nice": false, "zero": false}, "axis": null}
     }},
    {"layer": [
     {"data": {"values": [{}]}, "mark": {"type": "rule", "color": "#c4c4c4", "strokeDash": [2,2], "strokeWidth": 0.6},
      "encoding": {"x": {"datum": {"year":2017,"month":1,"date":3}, "type": "temporal", "scale": {"domain": [{"year":2015,"month":12,"date":30},{"year":2017,"month":1,"date":20}], "nice": false}}}},
     {"data": {"name": "nq"}, "mark": {"type": "rule", "color": "#7f7f7f", "strokeWidth": 0.7, "clip": true},
      "encoding": {
       "x": {"field": "d", "type": "temporal", "scale": {"domain": [{"year":2015,"month":12,"date":30},{"year":2017,"month":1,"date":20}], "nice": false},
             "axis": {"values": [{"year":2016,"month":2,"date":1},{"year":2016,"month":3,"date":1},{"year":2016,"month":4,"date":1},{"year":2016,"month":5,"date":1},{"year":2016,"month":6,"date":1},{"year":2016,"month":7,"date":1},{"year":2016,"month":8,"date":1},{"year":2016,"month":9,"date":1},{"year":2016,"month":10,"date":1},{"year":2016,"month":11,"date":1},{"year":2016,"month":12,"date":1},{"year":2017,"month":1,"date":1}],
                      "labelExpr": "month(datum.value)==0 ? '17' : timeFormat(datum.value, '%b')", "title": null, "ticks": false, "tickSize": 0, "domain": false, "grid": false,
                      "labelFontSize": 4.5, "labelColor": "#555555", "labelFont": "Roboto", "labelPadding": 2.5, "minExtent": 12, "maxExtent": 12, "labelOverlap": false, "labelFlush": false}},
       "y": {"field": "l", "type": "quantitative", "scale": {"domain": [3702, 5222], "nice": false, "zero": false},
             "axis": {"orient": "right", "values": [3800,4000,4200,4400,4600,4800,5000], "title": null, "ticks": false, "tickSize": 0, "domain": false, "grid": false,
                      "labelFontSize": 4.5, "labelColor": "#555555", "labelFont": "Roboto", "labelPadding": 15, "labelAlign": "right", "minExtent": 24, "maxExtent": 24, "labelOverlap": false, "labelFlush": false}},
       "y2": {"field": "h"}}},
     {"data": {"name": "nq"}, "mark": {"type": "bar", "width": 3, "strokeWidth": 0.4, "clip": true},
      "encoding": {
       "x": {"field": "d", "type": "temporal", "scale": {"domain": [{"year":2015,"month":12,"date":30},{"year":2017,"month":1,"date":20}], "nice": false}, "axis": null},
       "y": {"field": "o", "type": "quantitative", "scale": {"domain": [3702, 5222], "nice": false, "zero": false}, "axis": null},
       "y2": {"field": "c"},
       "color": {"condition": {"test": "datum.c >= datum.o", "value": "#1f6e3a"}, "value": "#b3322f"},
       "stroke": {"condition": {"test": "datum.c >= datum.o", "value": "#1f6e3a"}, "value": "#b3322f"}}},
     {"data": {"name": "notes"}, "transform": [{"filter": "datum.p=='NQ' && datum.k=='hl'"}],
      "mark": {"type": "point", "shape": "M-1,-0.3L1,-0.3L1,0.3L-1,0.3Z", "size": 484, "filled": true, "fill": "#e9e9e9", "stroke": "#b0b0b0", "strokeWidth": 0.4, "opacity": 1},
      "encoding": {
       "x": {"field": "d", "type": "temporal", "scale": {"domain": [{"year":2015,"month":12,"date":30},{"year":2017,"month":1,"date":20}], "nice": false}},
       "y": {"field": "y", "type": "quantitative", "scale": {"domain": [3702, 5222], "nice": false, "zero": false}}}},
     {"data": {"name": "notes"}, "transform": [{"filter": "datum.p=='NQ' && datum.k=='hl'"}],
      "mark": {"type": "text", "fontSize": 4, "color": "#444444", "align": "center", "baseline": "middle"},
      "encoding": {
       "x": {"field": "d", "type": "temporal", "scale": {"domain": [{"year":2015,"month":12,"date":30},{"year":2017,"month":1,"date":20}], "nice": false}},
       "y": {"field": "y", "type": "quantitative", "scale": {"domain": [3702, 5222], "nice": false, "zero": false}},
       "text": {"field": "t"}}},
     {"data": {"name": "notes"}, "transform": [{"filter": "datum.p=='NQ' && datum.k=='copy'"}],
      "mark": {"type": "text", "fontSize": 3.6, "color": "#9a9a9a", "align": "left", "baseline": "middle"},
      "encoding": {
       "x": {"field": "d", "type": "temporal", "scale": {"domain": [{"year":2015,"month":12,"date":30},{"year":2017,"month":1,"date":20}], "nice": false}},
       "y": {"field": "y", "type": "quantitative", "scale": {"domain": [3702, 5222], "nice": false, "zero": false}},
       "text": {"field": "t"}}},
     {"data": {"name": "tags"}, "transform": [{"filter": "datum.p=='NQ'"}],
      "mark": {"type": "rect", "height": 5.5},
      "encoding": {
       "x": {"datum": {"year":2017,"month":1,"date":20}, "type": "temporal", "scale": {"domain": [{"year":2015,"month":12,"date":30},{"year":2017,"month":1,"date":20}], "nice": false}},
       "x2": {"datum": {"year":2017,"month":2,"date":14}},
       "y": {"field": "y", "type": "quantitative", "scale": {"domain": [3702, 5222], "nice": false, "zero": false}},
       "color": {"field": "k", "type": "nominal", "scale": {"domain": ["last","mid","low"], "range": ["#1a1a1a","#a0a0a0","#c83c3c"]}, "legend": null}}},
     {"data": {"name": "tags"}, "transform": [{"filter": "datum.p=='NQ'"}],
      "mark": {"type": "text", "fontSize": 4, "fontWeight": "bold", "color": "#ffffff", "align": "center", "baseline": "middle"},
      "encoding": {
       "x": {"datum": {"year":2017,"month":2,"date":2}, "type": "temporal", "scale": {"domain": [{"year":2015,"month":12,"date":30},{"year":2017,"month":1,"date":20}], "nice": false}},
       "y": {"field": "y", "type": "quantitative", "scale": {"domain": [3702, 5222], "nice": false, "zero": false}},
       "text": {"field": "t"}}}
    ]}
   ]}
 ]}
]},
{"spacing": 0, "hconcat": [
 {"spacing": 0, "vconcat": [
  {"width": 292, "height": 13, "view": {"stroke": null, "fill": "#ffffff"},
   "resolve": {"scale": {"size": "independent"}},
   "layer": [
    {"data": {"values": [{"row": "tb"}]}, "mark": {"type": "rect", "color": "#e6e6e6"},
     "encoding": {"y": {"field": "row", "type": "nominal", "scale": {"type": "band", "domain": ["tb","info"], "paddingInner": 0, "paddingOuter": 0}, "axis": null}}},
    {"data": {"name": "hdr"}, "transform": [{"filter": "datum.p=='CL' && (datum.k=='dark' || datum.k=='gray' || datum.k=='green')"}],
     "mark": {"type": "text", "align": "left", "baseline": "middle", "font": "Roboto"},
     "encoding": {
      "x": {"field": "item", "type": "nominal", "bandPosition": 0, "scale": {"type": "band", "domain": ["a0","a1","a2","a3","a4","a5","a6","a7","a8","a9","a10","a11","a12","a13","a14","a15","a16","a17","a18","a19","a20","a21","a22","a23","a24","a25","a26","a27","a28","a29","a30","a31","a32","a33","a34","a35","a36","a37","a38","a39","a40","a41","a42","a43","a44","a45","a46","a47"], "paddingInner": 0, "paddingOuter": 0}, "axis": null},
      "y": {"field": "row", "type": "nominal", "scale": {"type": "band", "domain": ["tb","info"], "paddingInner": 0, "paddingOuter": 0}, "axis": null},
      "text": {"field": "t"},
      "size": {"field": "row", "type": "ordinal", "scale": {"domain": ["tb","info"], "range": [3.6, 3.4]}, "legend": null},
      "color": {"field": "k", "type": "nominal", "scale": {"domain": ["dark","gray","green","red","bold"], "range": ["#333333","#777777","#1e9e1e","#d42a2a","#111111"]}, "legend": null}
     }},
    {"data": {"name": "hdr"}, "transform": [{"filter": "datum.p=='CL' && (datum.k=='red' || datum.k=='bold')"}],
     "mark": {"type": "text", "align": "left", "baseline": "middle", "font": "Roboto", "fontWeight": "bold"},
     "encoding": {
      "x": {"field": "item", "type": "nominal", "bandPosition": 0, "scale": {"type": "band", "domain": ["a0","a1","a2","a3","a4","a5","a6","a7","a8","a9","a10","a11","a12","a13","a14","a15","a16","a17","a18","a19","a20","a21","a22","a23","a24","a25","a26","a27","a28","a29","a30","a31","a32","a33","a34","a35","a36","a37","a38","a39","a40","a41","a42","a43","a44","a45","a46","a47"], "paddingInner": 0, "paddingOuter": 0}, "axis": null},
      "y": {"field": "row", "type": "nominal", "scale": {"type": "band", "domain": ["tb","info"], "paddingInner": 0, "paddingOuter": 0}, "axis": null},
      "text": {"field": "t"},
      "size": {"field": "row", "type": "ordinal", "scale": {"domain": ["tb","info"], "range": [4.2, 3.4]}, "legend": null},
      "color": {"field": "k", "type": "nominal", "scale": {"domain": ["dark","gray","green","red","bold"], "range": ["#333333","#777777","#1e9e1e","#d42a2a","#111111"]}, "legend": null}
     }}
   ]},
  {"width": 268, "height": 131, "view": {"stroke": "#cfcfcf", "fill": "#fdfbe8"},
   "resolve": {"scale": {"y": "independent", "color": "independent"}},
   "layer": [
    {"data": {"name": "bands"}, "transform": [{"filter": "datum.p=='CL'"}],
     "mark": {"type": "rect", "opacity": 0.9},
     "encoding": {
      "x": {"field": "s", "type": "temporal", "scale": {"domain": [{"year":2015,"month":12,"date":30},{"year":2017,"month":1,"date":20}], "nice": false}, "axis": null},
      "x2": {"field": "e"},
      "y": {"field": "top", "type": "quantitative", "scale": {"domain": [27.4, 65.4], "nice": false, "zero": false}, "axis": null},
      "y2": {"field": "bot"},
      "color": {"field": "k", "type": "nominal", "scale": {"domain": ["pink","green"], "range": ["#ff96be","#7ff93e"]}, "legend": null}
     }},
    {"data": {"name": "cl"}, "mark": {"type": "bar", "width": 4.6, "color": "#ffffff", "opacity": 0.75},
     "encoding": {
      "x": {"field": "d", "type": "temporal", "scale": {"domain": [{"year":2015,"month":12,"date":30},{"year":2017,"month":1,"date":20}], "nice": false}, "axis": null},
      "y": {"field": "v", "type": "quantitative", "scale": {"domain": [0, 2358], "nice": false}, "axis": null}
     }},
    {"data": {"name": "cl"}, "mark": {"type": "line", "color": "#6aa86a", "strokeWidth": 0.7},
     "encoding": {
      "x": {"field": "d", "type": "temporal", "scale": {"domain": [{"year":2015,"month":12,"date":30},{"year":2017,"month":1,"date":20}], "nice": false}, "axis": null},
      "y": {"field": "oi", "type": "quantitative", "scale": {"domain": [380, 1559], "nice": false, "zero": false}, "axis": null}
     }},
    {"layer": [
     {"data": {"values": [{}]}, "mark": {"type": "rule", "color": "#c4c4c4", "strokeDash": [2,2], "strokeWidth": 0.6},
      "encoding": {"x": {"datum": {"year":2017,"month":1,"date":3}, "type": "temporal", "scale": {"domain": [{"year":2015,"month":12,"date":30},{"year":2017,"month":1,"date":20}], "nice": false}}}},
     {"data": {"name": "cl"}, "mark": {"type": "rule", "color": "#7f7f7f", "strokeWidth": 0.7, "clip": true},
      "encoding": {
       "x": {"field": "d", "type": "temporal", "scale": {"domain": [{"year":2015,"month":12,"date":30},{"year":2017,"month":1,"date":20}], "nice": false},
             "axis": {"values": [{"year":2016,"month":2,"date":1},{"year":2016,"month":3,"date":1},{"year":2016,"month":4,"date":1},{"year":2016,"month":5,"date":1},{"year":2016,"month":6,"date":1},{"year":2016,"month":7,"date":1},{"year":2016,"month":8,"date":1},{"year":2016,"month":9,"date":1},{"year":2016,"month":10,"date":1},{"year":2016,"month":11,"date":1},{"year":2016,"month":12,"date":1},{"year":2017,"month":1,"date":1}],
                      "labelExpr": "month(datum.value)==0 ? '17' : timeFormat(datum.value, '%b')", "title": null, "ticks": false, "tickSize": 0, "domain": false, "grid": false,
                      "labelFontSize": 4.5, "labelColor": "#555555", "labelFont": "Roboto", "labelPadding": 2.5, "minExtent": 12, "maxExtent": 12, "labelOverlap": false, "labelFlush": false}},
       "y": {"field": "l", "type": "quantitative", "scale": {"domain": [27.4, 65.4], "nice": false, "zero": false},
             "axis": {"orient": "right", "values": [30,35,40,45,50,55,60], "title": null, "ticks": false, "tickSize": 0, "domain": false, "grid": false,
                      "labelFontSize": 4.5, "labelColor": "#555555", "labelFont": "Roboto", "labelPadding": 15, "labelAlign": "right", "minExtent": 24, "maxExtent": 24, "labelOverlap": false, "labelFlush": false}},
       "y2": {"field": "h"}}},
     {"data": {"name": "cl"}, "mark": {"type": "bar", "width": 3, "strokeWidth": 0.4, "clip": true},
      "encoding": {
       "x": {"field": "d", "type": "temporal", "scale": {"domain": [{"year":2015,"month":12,"date":30},{"year":2017,"month":1,"date":20}], "nice": false}, "axis": null},
       "y": {"field": "o", "type": "quantitative", "scale": {"domain": [27.4, 65.4], "nice": false, "zero": false}, "axis": null},
       "y2": {"field": "c"},
       "color": {"condition": {"test": "datum.c >= datum.o", "value": "#1f6e3a"}, "value": "#b3322f"},
       "stroke": {"condition": {"test": "datum.c >= datum.o", "value": "#1f6e3a"}, "value": "#b3322f"}}},
     {"data": {"name": "notes"}, "transform": [{"filter": "datum.p=='CL' && datum.k=='hl'"}],
      "mark": {"type": "point", "shape": "M-1,-0.3L1,-0.3L1,0.3L-1,0.3Z", "size": 361, "filled": true, "fill": "#e9e9e9", "stroke": "#b0b0b0", "strokeWidth": 0.4, "opacity": 1},
      "encoding": {
       "x": {"field": "d", "type": "temporal", "scale": {"domain": [{"year":2015,"month":12,"date":30},{"year":2017,"month":1,"date":20}], "nice": false}},
       "y": {"field": "y", "type": "quantitative", "scale": {"domain": [27.4, 65.4], "nice": false, "zero": false}}}},
     {"data": {"name": "notes"}, "transform": [{"filter": "datum.p=='CL' && datum.k=='hl'"}],
      "mark": {"type": "text", "fontSize": 4, "color": "#444444", "align": "center", "baseline": "middle"},
      "encoding": {
       "x": {"field": "d", "type": "temporal", "scale": {"domain": [{"year":2015,"month":12,"date":30},{"year":2017,"month":1,"date":20}], "nice": false}},
       "y": {"field": "y", "type": "quantitative", "scale": {"domain": [27.4, 65.4], "nice": false, "zero": false}},
       "text": {"field": "t"}}},
     {"data": {"name": "notes"}, "transform": [{"filter": "datum.p=='CL' && datum.k=='copy'"}],
      "mark": {"type": "text", "fontSize": 3.6, "color": "#9a9a9a", "align": "left", "baseline": "middle"},
      "encoding": {
       "x": {"field": "d", "type": "temporal", "scale": {"domain": [{"year":2015,"month":12,"date":30},{"year":2017,"month":1,"date":20}], "nice": false}},
       "y": {"field": "y", "type": "quantitative", "scale": {"domain": [27.4, 65.4], "nice": false, "zero": false}},
       "text": {"field": "t"}}},
     {"data": {"name": "tags"}, "transform": [{"filter": "datum.p=='CL'"}],
      "mark": {"type": "rect", "height": 5.5},
      "encoding": {
       "x": {"datum": {"year":2017,"month":1,"date":20}, "type": "temporal", "scale": {"domain": [{"year":2015,"month":12,"date":30},{"year":2017,"month":1,"date":20}], "nice": false}},
       "x2": {"datum": {"year":2017,"month":2,"date":14}},
       "y": {"field": "y", "type": "quantitative", "scale": {"domain": [27.4, 65.4], "nice": false, "zero": false}},
       "color": {"field": "k", "type": "nominal", "scale": {"domain": ["last","mid","low"], "range": ["#1a1a1a","#a0a0a0","#c83c3c"]}, "legend": null}}},
     {"data": {"name": "tags"}, "transform": [{"filter": "datum.p=='CL'"}],
      "mark": {"type": "text", "fontSize": 4, "fontWeight": "bold", "color": "#ffffff", "align": "center", "baseline": "middle"},
      "encoding": {
       "x": {"datum": {"year":2017,"month":2,"date":2}, "type": "temporal", "scale": {"domain": [{"year":2015,"month":12,"date":30},{"year":2017,"month":1,"date":20}], "nice": false}},
       "y": {"field": "y", "type": "quantitative", "scale": {"domain": [27.4, 65.4], "nice": false, "zero": false}},
       "text": {"field": "t"}}}
    ]}
   ]}
 ]},
 {"spacing": 0, "vconcat": [
  {"width": 292, "height": 13, "view": {"stroke": null, "fill": "#ffffff"},
   "resolve": {"scale": {"size": "independent"}},
   "layer": [
    {"data": {"values": [{"row": "tb"}]}, "mark": {"type": "rect", "color": "#e6e6e6"},
     "encoding": {"y": {"field": "row", "type": "nominal", "scale": {"type": "band", "domain": ["tb","info"], "paddingInner": 0, "paddingOuter": 0}, "axis": null}}},
    {"data": {"name": "hdr"}, "transform": [{"filter": "datum.p=='GC' && (datum.k=='dark' || datum.k=='gray' || datum.k=='green')"}],
     "mark": {"type": "text", "align": "left", "baseline": "middle", "font": "Roboto"},
     "encoding": {
      "x": {"field": "item", "type": "nominal", "bandPosition": 0, "scale": {"type": "band", "domain": ["a0","a1","a2","a3","a4","a5","a6","a7","a8","a9","a10","a11","a12","a13","a14","a15","a16","a17","a18","a19","a20","a21","a22","a23","a24","a25","a26","a27","a28","a29","a30","a31","a32","a33","a34","a35","a36","a37","a38","a39","a40","a41","a42","a43","a44","a45","a46","a47"], "paddingInner": 0, "paddingOuter": 0}, "axis": null},
      "y": {"field": "row", "type": "nominal", "scale": {"type": "band", "domain": ["tb","info"], "paddingInner": 0, "paddingOuter": 0}, "axis": null},
      "text": {"field": "t"},
      "size": {"field": "row", "type": "ordinal", "scale": {"domain": ["tb","info"], "range": [3.6, 3.4]}, "legend": null},
      "color": {"field": "k", "type": "nominal", "scale": {"domain": ["dark","gray","green","red","bold"], "range": ["#333333","#777777","#1e9e1e","#d42a2a","#111111"]}, "legend": null}
     }},
    {"data": {"name": "hdr"}, "transform": [{"filter": "datum.p=='GC' && (datum.k=='red' || datum.k=='bold')"}],
     "mark": {"type": "text", "align": "left", "baseline": "middle", "font": "Roboto", "fontWeight": "bold"},
     "encoding": {
      "x": {"field": "item", "type": "nominal", "bandPosition": 0, "scale": {"type": "band", "domain": ["a0","a1","a2","a3","a4","a5","a6","a7","a8","a9","a10","a11","a12","a13","a14","a15","a16","a17","a18","a19","a20","a21","a22","a23","a24","a25","a26","a27","a28","a29","a30","a31","a32","a33","a34","a35","a36","a37","a38","a39","a40","a41","a42","a43","a44","a45","a46","a47"], "paddingInner": 0, "paddingOuter": 0}, "axis": null},
      "y": {"field": "row", "type": "nominal", "scale": {"type": "band", "domain": ["tb","info"], "paddingInner": 0, "paddingOuter": 0}, "axis": null},
      "text": {"field": "t"},
      "size": {"field": "row", "type": "ordinal", "scale": {"domain": ["tb","info"], "range": [4.2, 3.4]}, "legend": null},
      "color": {"field": "k", "type": "nominal", "scale": {"domain": ["dark","gray","green","red","bold"], "range": ["#333333","#777777","#1e9e1e","#d42a2a","#111111"]}, "legend": null}
     }}
   ]},
  {"width": 268, "height": 131, "view": {"stroke": "#cfcfcf", "fill": "#ffffff"},
   "resolve": {"scale": {"y": "independent", "color": "independent"}},
   "layer": [
    {"data": {"name": "bands"}, "transform": [{"filter": "datum.p=='GC'"}],
     "mark": {"type": "rect", "opacity": 0.9},
     "encoding": {
      "x": {"field": "s", "type": "temporal", "scale": {"domain": [{"year":2015,"month":12,"date":30},{"year":2017,"month":1,"date":20}], "nice": false}, "axis": null},
      "x2": {"field": "e"},
      "y": {"field": "top", "type": "quantitative", "scale": {"domain": [1033, 1438], "nice": false, "zero": false}, "axis": null},
      "y2": {"field": "bot"},
      "color": {"field": "k", "type": "nominal", "scale": {"domain": ["pink","green"], "range": ["#ff96be","#7ff93e"]}, "legend": null}
     }},
    {"data": {"name": "gc"}, "mark": {"type": "bar", "width": 4.6, "color": "#c4c4c4", "opacity": 0.6},
     "encoding": {
      "x": {"field": "d", "type": "temporal", "scale": {"domain": [{"year":2015,"month":12,"date":30},{"year":2017,"month":1,"date":20}], "nice": false}, "axis": null},
      "y": {"field": "v", "type": "quantitative", "scale": {"domain": [0, 786], "nice": false}, "axis": null}
     }},
    {"data": {"name": "gc"}, "mark": {"type": "line", "color": "#6aa86a", "strokeWidth": 0.7},
     "encoding": {
      "x": {"field": "d", "type": "temporal", "scale": {"domain": [{"year":2015,"month":12,"date":30},{"year":2017,"month":1,"date":20}], "nice": false}, "axis": null},
      "y": {"field": "oi", "type": "quantitative", "scale": {"domain": [250, 1036], "nice": false, "zero": false}, "axis": null}
     }},
    {"layer": [
     {"data": {"values": [{}]}, "mark": {"type": "rule", "color": "#c4c4c4", "strokeDash": [2,2], "strokeWidth": 0.6},
      "encoding": {"x": {"datum": {"year":2017,"month":1,"date":3}, "type": "temporal", "scale": {"domain": [{"year":2015,"month":12,"date":30},{"year":2017,"month":1,"date":20}], "nice": false}}}},
     {"data": {"name": "gc"}, "mark": {"type": "rule", "color": "#7f7f7f", "strokeWidth": 0.7, "clip": true},
      "encoding": {
       "x": {"field": "d", "type": "temporal", "scale": {"domain": [{"year":2015,"month":12,"date":30},{"year":2017,"month":1,"date":20}], "nice": false},
             "axis": {"values": [{"year":2016,"month":2,"date":1},{"year":2016,"month":3,"date":1},{"year":2016,"month":4,"date":1},{"year":2016,"month":5,"date":1},{"year":2016,"month":6,"date":1},{"year":2016,"month":7,"date":1},{"year":2016,"month":8,"date":1},{"year":2016,"month":9,"date":1},{"year":2016,"month":10,"date":1},{"year":2016,"month":11,"date":1},{"year":2016,"month":12,"date":1},{"year":2017,"month":1,"date":1}],
                      "labelExpr": "month(datum.value)==0 ? '17' : timeFormat(datum.value, '%b')", "title": null, "ticks": false, "tickSize": 0, "domain": false, "grid": false,
                      "labelFontSize": 4.5, "labelColor": "#555555", "labelFont": "Roboto", "labelPadding": 2.5, "minExtent": 12, "maxExtent": 12, "labelOverlap": false, "labelFlush": false}},
       "y": {"field": "l", "type": "quantitative", "scale": {"domain": [1033, 1438], "nice": false, "zero": false},
             "axis": {"orient": "right", "values": [1050,1100,1150,1200,1250,1300,1350,1400], "title": null, "ticks": false, "tickSize": 0, "domain": false, "grid": false,
                      "labelFontSize": 4.5, "labelColor": "#555555", "labelFont": "Roboto", "labelPadding": 15, "labelAlign": "right", "minExtent": 24, "maxExtent": 24, "labelOverlap": false, "labelFlush": false}},
       "y2": {"field": "h"}}},
     {"data": {"name": "gc"}, "mark": {"type": "bar", "width": 3, "strokeWidth": 0.4, "clip": true},
      "encoding": {
       "x": {"field": "d", "type": "temporal", "scale": {"domain": [{"year":2015,"month":12,"date":30},{"year":2017,"month":1,"date":20}], "nice": false}, "axis": null},
       "y": {"field": "o", "type": "quantitative", "scale": {"domain": [1033, 1438], "nice": false, "zero": false}, "axis": null},
       "y2": {"field": "c"},
       "color": {"condition": {"test": "datum.c >= datum.o", "value": "#1f6e3a"}, "value": "#b3322f"},
       "stroke": {"condition": {"test": "datum.c >= datum.o", "value": "#1f6e3a"}, "value": "#b3322f"}}},
     {"data": {"name": "notes"}, "transform": [{"filter": "datum.p=='GC' && datum.k=='hl'"}],
      "mark": {"type": "point", "shape": "M-1,-0.3L1,-0.3L1,0.3L-1,0.3Z", "size": 400, "filled": true, "fill": "#e9e9e9", "stroke": "#b0b0b0", "strokeWidth": 0.4, "opacity": 1},
      "encoding": {
       "x": {"field": "d", "type": "temporal", "scale": {"domain": [{"year":2015,"month":12,"date":30},{"year":2017,"month":1,"date":20}], "nice": false}},
       "y": {"field": "y", "type": "quantitative", "scale": {"domain": [1033, 1438], "nice": false, "zero": false}}}},
     {"data": {"name": "notes"}, "transform": [{"filter": "datum.p=='GC' && datum.k=='hl'"}],
      "mark": {"type": "text", "fontSize": 4, "color": "#444444", "align": "center", "baseline": "middle"},
      "encoding": {
       "x": {"field": "d", "type": "temporal", "scale": {"domain": [{"year":2015,"month":12,"date":30},{"year":2017,"month":1,"date":20}], "nice": false}},
       "y": {"field": "y", "type": "quantitative", "scale": {"domain": [1033, 1438], "nice": false, "zero": false}},
       "text": {"field": "t"}}},
     {"data": {"name": "notes"}, "transform": [{"filter": "datum.p=='GC' && datum.k=='copy'"}],
      "mark": {"type": "text", "fontSize": 3.6, "color": "#9a9a9a", "align": "left", "baseline": "middle"},
      "encoding": {
       "x": {"field": "d", "type": "temporal", "scale": {"domain": [{"year":2015,"month":12,"date":30},{"year":2017,"month":1,"date":20}], "nice": false}},
       "y": {"field": "y", "type": "quantitative", "scale": {"domain": [1033, 1438], "nice": false, "zero": false}},
       "text": {"field": "t"}}},
     {"data": {"name": "tags"}, "transform": [{"filter": "datum.p=='GC'"}],
      "mark": {"type": "rect", "height": 5.5},
      "encoding": {
       "x": {"datum": {"year":2017,"month":1,"date":20}, "type": "temporal", "scale": {"domain": [{"year":2015,"month":12,"date":30},{"year":2017,"month":1,"date":20}], "nice": false}},
       "x2": {"datum": {"year":2017,"month":2,"date":14}},
       "y": {"field": "y", "type": "quantitative", "scale": {"domain": [1033, 1438], "nice": false, "zero": false}},
       "color": {"field": "k", "type": "nominal", "scale": {"domain": ["last","mid","low"], "range": ["#1a1a1a","#a0a0a0","#c83c3c"]}, "legend": null}}},
     {"data": {"name": "tags"}, "transform": [{"filter": "datum.p=='GC'"}],
      "mark": {"type": "text", "fontSize": 4, "fontWeight": "bold", "color": "#ffffff", "align": "center", "baseline": "middle"},
      "encoding": {
       "x": {"datum": {"year":2017,"month":2,"date":2}, "type": "temporal", "scale": {"domain": [{"year":2015,"month":12,"date":30},{"year":2017,"month":1,"date":20}], "nice": false}},
       "y": {"field": "y", "type": "quantitative", "scale": {"domain": [1033, 1438], "nice": false, "zero": false}},
       "text": {"field": "t"}}},
     {"data": {"name": "ovl"},
      "mark": {"type": "rect"},
      "encoding": {
       "x": {"field": "s", "type": "temporal", "scale": {"domain": [{"year":2015,"month":12,"date":30},{"year":2017,"month":1,"date":20}], "nice": false}},
       "x2": {"field": "e"},
       "y": {"field": "top", "type": "quantitative", "scale": {"domain": [1033, 1438], "nice": false, "zero": false}},
       "y2": {"field": "bot"},
       "color": {"field": "k", "type": "nominal", "scale": {"domain": ["box","bar"], "range": ["#2f2f2f","#d4d4d4"]}, "legend": null}}},
     {"data": {"name": "ovltext"}, "transform": [{"filter": "datum.k=='small'"}],
      "mark": {"type": "text", "fontSize": 3.5, "color": "#dddddd", "align": "left", "baseline": "middle"},
      "encoding": {
       "x": {"field": "d", "type": "temporal", "scale": {"domain": [{"year":2015,"month":12,"date":30},{"year":2017,"month":1,"date":20}], "nice": false}},
       "y": {"field": "y", "type": "quantitative", "scale": {"domain": [1033, 1438], "nice": false, "zero": false}},
       "text": {"field": "t"}}},
     {"data": {"name": "ovltext"}, "transform": [{"filter": "datum.k=='x'"}],
      "mark": {"type": "text", "fontSize": 5, "color": "#e02020", "align": "center", "baseline": "middle", "fontWeight": "bold"},
      "encoding": {
       "x": {"field": "d", "type": "temporal", "scale": {"domain": [{"year":2015,"month":12,"date":30},{"year":2017,"month":1,"date":20}], "nice": false}},
       "y": {"field": "y", "type": "quantitative", "scale": {"domain": [1033, 1438], "nice": false, "zero": false}},
       "text": {"field": "t"}}},
     {"data": {"name": "ovltext"}, "transform": [{"filter": "datum.k=='logo'"}],
      "mark": {"type": "text", "fontSize": 7, "font": "DejaVu Serif", "color": "#f2f2f2", "align": "center", "baseline": "middle"},
      "encoding": {
       "x": {"field": "d", "type": "temporal", "scale": {"domain": [{"year":2015,"month":12,"date":30},{"year":2017,"month":1,"date":20}], "nice": false}},
       "y": {"field": "y", "type": "quantitative", "scale": {"domain": [1033, 1438], "nice": false, "zero": false}},
       "text": {"field": "t"}}}
    ]}
   ]}
 ]}
]}
]
}
